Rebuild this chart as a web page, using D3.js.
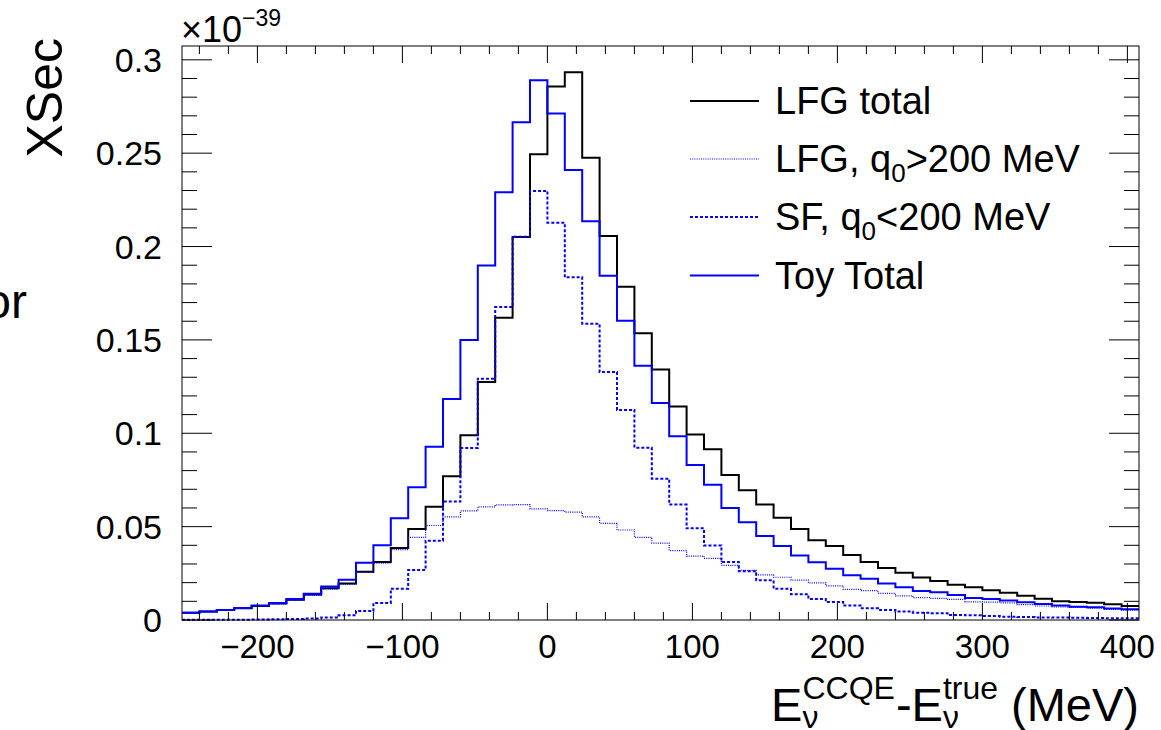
<!DOCTYPE html>
<html>
<head>
<meta charset="utf-8">
<script src="https://cdn.jsdelivr.net/npm/d3@7"></script>
<style>
  html, body { margin: 0; padding: 0; background: #fff; }
  svg { display: block; font-family: "Liberation Sans", Arial, Helvetica, sans-serif; }
</style>
</head>
<body>
<div id="chart"></div>
<script>
// Binning: 55 bins of 12 MeV from -252 to 408
const xLow = -252;
const binWidth = 12;
const nBins = 55;

// Bin contents, in units of 1e-39
const lfgTotal = [
  0.0039, 0.0045, 0.0053, 0.0063, 0.0075, 0.0088, 0.0108, 0.0136, 0.0170, 0.0196,
  0.0259, 0.0311, 0.0386, 0.0487, 0.0607, 0.0770, 0.0990, 0.1275, 0.1619, 0.2051,
  0.2494, 0.2857, 0.2934, 0.2476, 0.2057, 0.1785, 0.1536, 0.1341, 0.1143, 0.0993,
  0.0914, 0.0777, 0.0695, 0.0618, 0.0548, 0.0487, 0.0427, 0.0396, 0.0348, 0.0311,
  0.0279, 0.0253, 0.0227, 0.0209, 0.0189, 0.0175, 0.0159, 0.0146, 0.0130, 0.0114,
  0.0100, 0.0096, 0.0093, 0.0084, 0.0075
];
const lfgHighQ0 = [
  0.0038, 0.0044, 0.0052, 0.0062, 0.0074, 0.0086, 0.0105, 0.0132, 0.0165, 0.0190,
  0.0255, 0.0305, 0.0377, 0.0443, 0.0506, 0.0552, 0.0584, 0.0606, 0.0617, 0.0618,
  0.0595, 0.0586, 0.0578, 0.0552, 0.0518, 0.0482, 0.0443, 0.0412, 0.0372, 0.0342,
  0.0330, 0.0293, 0.0266, 0.0242, 0.0229, 0.0214, 0.0199, 0.0183, 0.0164, 0.0157,
  0.0143, 0.0129, 0.0120, 0.0116, 0.0110, 0.0097, 0.0096, 0.0092, 0.0082, 0.0075,
  0.0070, 0.0067, 0.0063, 0.0057, 0.0053
];
const sfLowQ0 = [
  0.0001, 0.0001, 0.0002, 0.0002, 0.0003, 0.0004, 0.0006, 0.0008, 0.0013, 0.0025,
  0.0048, 0.0091, 0.0168, 0.0268, 0.0425, 0.0634, 0.0921, 0.1292, 0.1676, 0.2053,
  0.2298, 0.2128, 0.1835, 0.1587, 0.1328, 0.1125, 0.0923, 0.0757, 0.0618, 0.0491,
  0.0399, 0.0311, 0.0261, 0.0213, 0.0168, 0.0138, 0.0112, 0.0096, 0.0077, 0.0063,
  0.0054, 0.0046, 0.0039, 0.0036, 0.0027, 0.0025, 0.0021, 0.0018, 0.0016, 0.0014,
  0.0013, 0.0012, 0.0011, 0.0010, 0.0009
];
const toyTotal = [
  0.0039, 0.0045, 0.0054, 0.0064, 0.0077, 0.0091, 0.0112, 0.0141, 0.0179, 0.0216,
  0.0307, 0.0400, 0.0545, 0.0711, 0.0928, 0.1184, 0.1500, 0.1898, 0.2291, 0.2666,
  0.2891, 0.2712, 0.2410, 0.2135, 0.1844, 0.1603, 0.1362, 0.1162, 0.0984, 0.0830,
  0.0724, 0.0600, 0.0523, 0.0450, 0.0396, 0.0346, 0.0309, 0.0275, 0.0239, 0.0221,
  0.0195, 0.0175, 0.0155, 0.0148, 0.0134, 0.0118, 0.0112, 0.0105, 0.0095, 0.0086,
  0.0077, 0.0071, 0.0068, 0.0061, 0.0057
];

const xTickValues = [-200, -100, 0, 100, 200, 300, 400];
const yTickValues = [0, 0.05, 0.1, 0.15, 0.2, 0.25, 0.3];
const yTickLabels = ['0', '0.05', '0.1', '0.15', '0.2', '0.25', '0.3'];

const width = 1161;
const height = 730;
const frame = { left: 182, right: 1139, top: 46, bottom: 620 };

const svg = d3.select('#chart')
  .append('svg')
  .attr('width', width)
  .attr('height', height);

const x = d3.scaleLinear().domain([xLow, xLow + nBins * binWidth]).range([frame.left, frame.right]);
const y = d3.scaleLinear().domain([0, 0.3074]).range([frame.bottom, frame.top]);

const edges = d3.range(nBins + 1).map(i => xLow + i * binWidth);

// Histograms as step outlines
const line = d3.line()
  .x(d => x(d[0]))
  .y(d => y(d[1]))
  .curve(d3.curveStepAfter);

function stepPoints(vals) {
  const pts = vals.map((v, i) => [edges[i], v]);
  pts.push([edges[nBins], vals[nBins - 1]]);
  return pts;
}

const series = [
  { name: 'LFG total', values: lfgTotal, color: '#000000', width: 2, dash: null },
  { name: 'LFG, q0>200 MeV', values: lfgHighQ0, color: '#0000ff', width: 1.2, dash: '1,1.2', sub: true },
  { name: 'SF, q0<200 MeV', values: sfLowQ0, color: '#0000ff', width: 2, dash: '3,2', sub: true },
  { name: 'Toy Total', values: toyTotal, color: '#0000ff', width: 2, dash: null }
];

svg.append('g')
  .selectAll('path')
  .data(series)
  .enter()
  .append('path')
  .attr('d', d => line(stepPoints(d.values)))
  .attr('fill', 'none')
  .attr('stroke', d => d.color)
  .attr('stroke-width', d => d.width)
  .attr('stroke-dasharray', d => d.dash);

// Frame and ticks (ROOT style, ticks on all four sides)
const axes = svg.append('g').attr('stroke', '#000').attr('stroke-width', 1);

axes.append('rect')
  .attr('x', frame.left)
  .attr('y', frame.top)
  .attr('width', frame.right - frame.left)
  .attr('height', frame.bottom - frame.top)
  .attr('fill', 'none');

const xMinor = d3.range(-240, 401, 20);
xMinor.forEach(v => {
  const major = v % 100 === 0;
  const len = major ? 17 : 8;
  axes.append('line').attr('x1', x(v)).attr('x2', x(v)).attr('y1', frame.bottom).attr('y2', frame.bottom - len);
  axes.append('line').attr('x1', x(v)).attr('x2', x(v)).attr('y1', frame.top).attr('y2', frame.top + len);
});

const yMinor = d3.range(0, 31).map(i => i / 100);
yMinor.forEach((v, i) => {
  const major = i % 5 === 0;
  const len = major ? 30 : 15;
  axes.append('line').attr('x1', frame.left).attr('x2', frame.left + len).attr('y1', y(v)).attr('y2', y(v));
  axes.append('line').attr('x1', frame.right).attr('x2', frame.right - len).attr('y1', y(v)).attr('y2', y(v));
});

// Tick labels
svg.append('g')
  .selectAll('text')
  .data(xTickValues)
  .enter()
  .append('text')
  .attr('x', d => x(d))
  .attr('y', 658)
  .attr('text-anchor', 'middle')
  .attr('font-size', 33)
  .text(d => d < 0 ? '\u2212' + Math.abs(d) : String(d));

svg.append('g')
  .selectAll('text')
  .data(yTickValues)
  .enter()
  .append('text')
  .attr('x', 162)
  .attr('y', d => y(d) + 12)
  .attr('text-anchor', 'end')
  .attr('font-size', 34)
  .text((d, i) => yTickLabels[i]);

// Exponent label
const expo = svg.append('text').attr('x', 181).attr('y', 42).attr('font-size', 36);
expo.append('tspan').text('\u00d710');
expo.append('tspan').attr('font-size', 23).attr('dy', -16).text('\u221239');

// Y title
svg.append('text')
  .attr('transform', 'translate(62,38) rotate(-90)')
  .attr('text-anchor', 'end')
  .attr('font-size', 50)
  .text('XSec');

svg.append('text')
  .attr('x', 27)
  .attr('y', 318)
  .attr('text-anchor', 'end')
  .attr('font-size', 48)
  .text('or');

// X title, built piece by piece and right-aligned to the axis end
const xt = svg.append('g');
let cursor = 0;
function piece(str, size, dy) {
  const t = xt.append('text').attr('x', cursor).attr('y', dy).attr('font-size', size).text(str);
  return t.node().getComputedTextLength();
}
function stacked(sup, sub) {
  const w1 = piece(sup, 32, -22);
  const w2 = piece(sub, 32, 7);
  cursor += Math.max(w1, w2) + 1;
}
cursor += piece('E', 47, 0);
stacked('CCQE', '\u03bd');
cursor += piece('-E', 47, 0);
stacked('true', '\u03bd');
cursor += 12;
cursor += piece('(MeV)', 47, 0);
xt.attr('transform', `translate(${frame.right - cursor},721)`);

// Legend
const legend = svg.append('g');
const legendY = [101, 159, 217, 275.5];
series.forEach((s, i) => {
  legend.append('line')
    .attr('x1', 690).attr('x2', 759)
    .attr('y1', legendY[i]).attr('y2', legendY[i])
    .attr('stroke', s.color)
    .attr('stroke-width', s.width)
    .attr('stroke-dasharray', s.dash);
  const t = legend.append('text')
    .attr('x', 775)
    .attr('y', legendY[i] + 13)
    .attr('font-size', 38);
  if (s.sub) {
    const parts = s.name.split('q0');
    t.append('tspan').text(parts[0] + 'q');
    t.append('tspan').attr('font-size', 26).attr('dy', 10).text('0');
    t.append('tspan').attr('dy', -10).text(parts[1]);
  } else {
    t.text(s.name);
  }
});
</script>
</body>
</html>
